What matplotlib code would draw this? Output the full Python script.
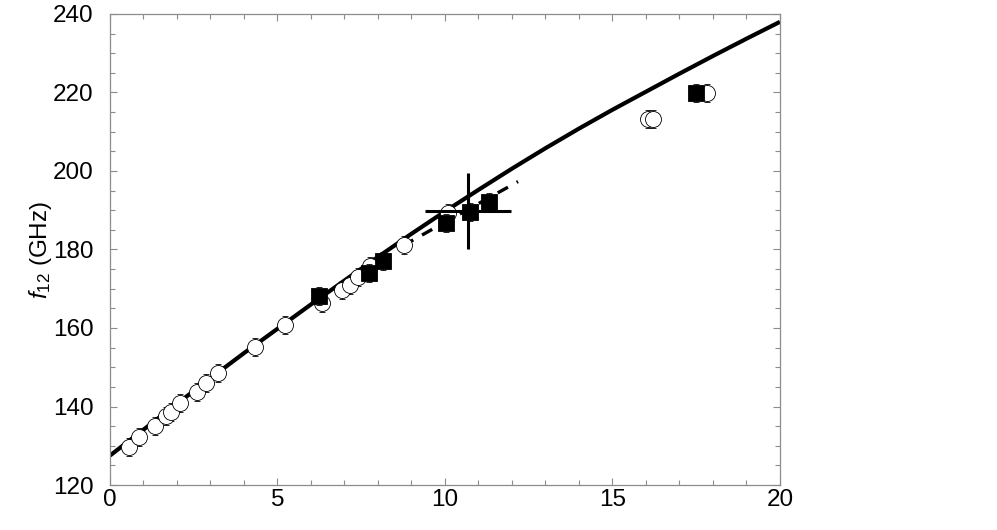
import matplotlib
matplotlib.use("Agg")
import matplotlib.pyplot as plt
from matplotlib.ticker import MultipleLocator

plt.rcParams['font.family'] = ['Liberation Sans', 'DejaVu Sans']
plt.rcParams['mathtext.fontset'] = 'custom'
plt.rcParams['mathtext.rm'] = 'Liberation Sans'
plt.rcParams['mathtext.it'] = 'Liberation Sans:italic'

theory_x = list(range(0, 21))
theory_y = [127.5, 134.1, 140.7, 147.2, 153.6, 159.8, 166.0, 172.1, 178.1,
            184.0, 189.7, 195.2, 200.6, 205.8, 210.8, 215.6, 220.2, 224.8,
            229.3, 233.7, 238.0]

# short dashed fit
dash_x = [8.75, 12.18]
dash_y = [181.0, 197.3]

# open circles
circ_x = [0.58, 0.87, 1.34, 1.67, 1.82, 2.09, 2.59, 2.87, 3.23, 4.33, 5.22,
          6.32, 6.92, 7.16, 7.41, 7.76, 8.78, 10.10, 16.07, 16.20, 17.81]
circ_y = [129.6, 132.2, 135.0, 137.6, 138.6, 140.9, 143.8, 145.9, 148.5, 155.1,
          160.8, 166.3, 169.7, 171.0, 173.1, 175.8, 181.1, 189.2, 213.2, 213.2,
          219.9]
circ_err = [2.3] * len(circ_x)

# filled squares
sq_x = [6.25, 7.73, 8.15, 10.03, 10.75, 11.32, 17.49]
sq_y = [168.2, 174.0, 177.1, 186.7, 189.6, 192.2, 219.9]
sq_err = [2.3] * len(sq_x)

# big cross
cross_x = [10.69]
cross_y = [189.8]
cross_xerr = [1.28]
cross_yerr = [9.7]

fig = plt.figure(figsize=(9.97, 5.30), dpi=100)
ax = fig.add_axes([0.1103, 0.0849, 0.6720, 0.8887])

ax.plot(theory_x, theory_y, color='black', lw=3.0, zorder=2, solid_capstyle='butt')
ax.plot(dash_x, dash_y, color='black', lw=2.4, dashes=(3.5, 3.0), zorder=2)

ax.errorbar(circ_x, circ_y, yerr=circ_err, fmt='o', ms=11.5, mfc='white',
            mec='black', mew=0.6, ecolor='black', elinewidth=0.5,
            capsize=2.5, capthick=0.5, zorder=3)
ax.errorbar(sq_x, sq_y, yerr=sq_err, fmt='s', ms=12, mfc='black',
            mec='black', mew=0.6, ecolor='black', elinewidth=0.5,
            capsize=2.5, capthick=0.5, zorder=4)
ax.errorbar(cross_x, cross_y, xerr=cross_xerr, yerr=cross_yerr, fmt='none',
            ecolor='black', elinewidth=2.2, capsize=0, zorder=5)

ax.set_xlim(0, 20)
ax.set_ylim(120, 240)
ax.xaxis.set_major_locator(MultipleLocator(5))
ax.xaxis.set_minor_locator(MultipleLocator(1))
ax.yaxis.set_major_locator(MultipleLocator(20))
ax.yaxis.set_minor_locator(MultipleLocator(5))

for s in ax.spines.values():
    s.set_color('#8c8c8c')
    s.set_linewidth(0.9)
ax.tick_params(which='both', direction='in', top=True, right=True,
               color='#8c8c8c', width=0.8, labelsize=17.5)
ax.tick_params(which='major', length=5)
ax.tick_params(which='minor', length=3.5)
ax.tick_params(axis='y', which='major', pad=12)
ax.tick_params(axis='x', which='major', pad=3)

ax.set_ylabel(r'$f_{12}$ (GHz)', fontsize=17.5)
ax.yaxis.set_label_coords(-0.083, 0.5)

fig.savefig('out.png', dpi=100)
